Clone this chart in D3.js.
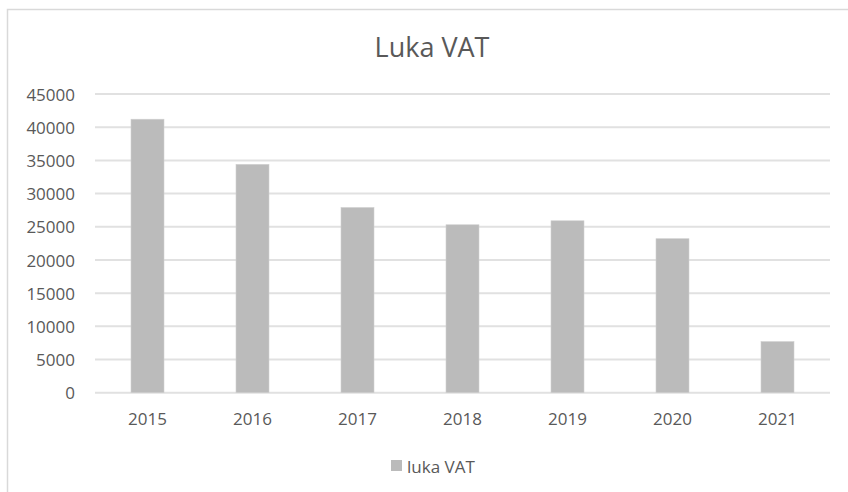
<!DOCTYPE html>
<meta charset="utf-8">
<head>
    <meta charset="utf-8">
    <title>Luka VAT</title>
    <script src="https://d3js.org/d3.v7.min.js"></script>
</head>
<style>
    body { margin: 0; background: #fff; }
    svg { display: block; font-family: "Open Sans", sans-serif; }
    .tick text { fill: #595959; font-size: 17px; font-family: "Open Sans", sans-serif; }
</style>
<body>
<div id="chart"></div>
<script>
    // data
    const years = ["2015", "2016", "2017", "2018", "2019", "2020", "2021"];
    const vatGap = [41200, 34400, 27900, 25300, 25900, 23200, 7700];
    const yTicks = [0, 5000, 10000, 15000, 20000, 25000, 30000, 35000, 40000, 45000];
    const seriesName = "luka VAT";
    const title = "Luka VAT";

    const W = 848, H = 492;
    const plot = { left: 95, right: 830, top: 94, bottom: 392.7 };

    const svg = d3.select("#chart").append("svg")
        .attr("width", W)
        .attr("height", H);

    // chart frame (cut off on right and bottom)
    svg.append("path")
        .attr("d", `M7.5,${H} V9.5 H${W}`)
        .attr("fill", "none")
        .attr("stroke", "#d9d9d9")
        .attr("stroke-width", 1.5);

    const x = d3.scaleBand()
        .domain(years)
        .range([plot.left, plot.right])
        .paddingInner(0.686)
        .paddingOuter(0.343);

    const y = d3.scaleLinear()
        .domain([0, 45000])
        .range([plot.bottom, plot.top]);

    // gridlines
    svg.append("g")
        .selectAll("line")
        .data(yTicks)
        .join("line")
        .attr("x1", plot.left)
        .attr("x2", plot.right)
        .attr("y1", d => y(d))
        .attr("y2", d => y(d))
        .attr("stroke", "#e1e1e1")
        .attr("stroke-width", 2);

    // y axis labels
    const yAxis = svg.append("g")
        .attr("transform", `translate(${plot.left},0)`)
        .call(d3.axisLeft(y).tickValues(yTicks).tickFormat(d3.format("d")).tickSize(0).tickPadding(20));
    yAxis.select(".domain").remove();
    yAxis.selectAll("text").attr("dy", "0.36em");

    // bars
    svg.append("g")
        .selectAll("rect")
        .data(years.map((d, i) => ({ year: d, value: vatGap[i] })))
        .join("rect")
        .attr("x", d => x(d.year))
        .attr("y", d => y(d.value))
        .attr("width", x.bandwidth())
        .attr("height", d => y(0) - y(d.value))
        .attr("fill", "#bbbbbb")
        .attr("stroke", "#cfcfcf")
        .attr("stroke-width", 0.6);

    // x axis labels
    const xAxis = svg.append("g")
        .attr("transform", `translate(0,${plot.bottom})`)
        .call(d3.axisBottom(x).tickSize(0).tickPadding(20));
    xAxis.select(".domain").remove();

    // title
    svg.append("text")
        .attr("x", 432)
        .attr("y", 56.5)
        .attr("text-anchor", "middle")
        .attr("fill", "#595959")
        .style("font-size", "27px")
        .text(title);

    // legend
    const legend = svg.append("g").attr("transform", "translate(391,460)");
    legend.append("rect")
        .attr("width", 11)
        .attr("height", 11)
        .attr("fill", "#bbbbbb");
    legend.append("text")
        .attr("x", 16)
        .attr("y", 12.5)
        .attr("fill", "#595959")
        .style("font-size", "17px")
        .text(seriesName);
</script>
</body>
</html>
